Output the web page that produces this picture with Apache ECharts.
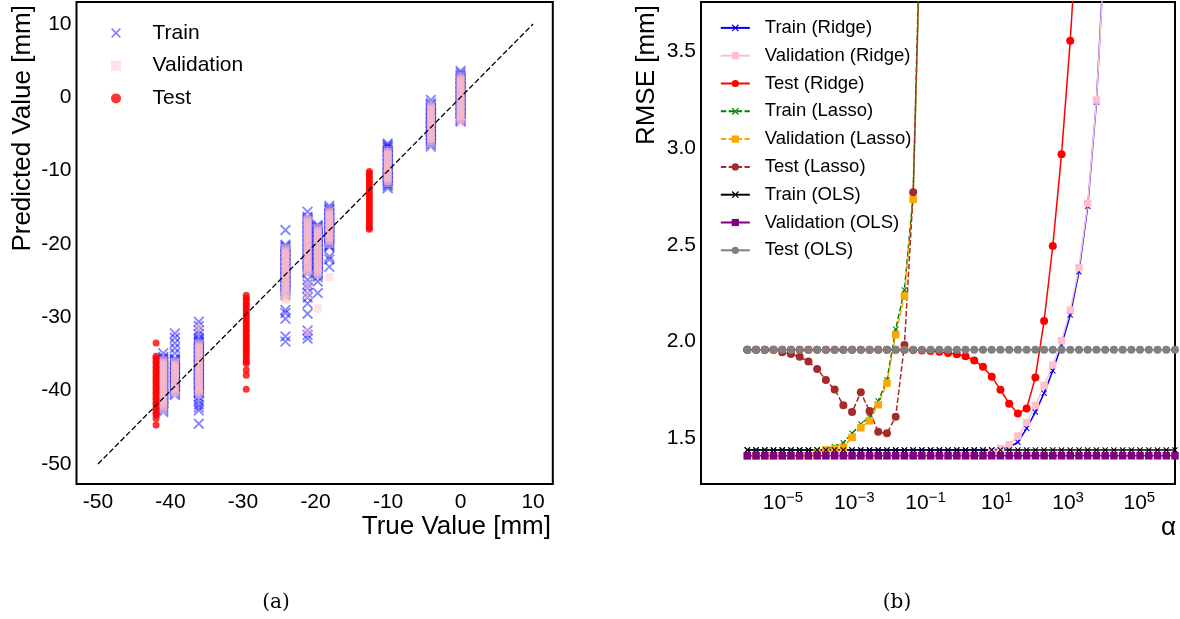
<!DOCTYPE html>
<html>
<head>
<meta charset="utf-8">
<script src="https://cdn.jsdelivr.net/npm/echarts@6/dist/echarts.min.js"></script>
<style>
html, body { margin: 0; padding: 0; background: #fff; }
#chart { width: 1180px; height: 619px; }
</style>
</head>
<body>
<div id="chart"></div>
<script>
// ---------- (a) predicted vs. true displacement [mm] ----------
// each entry: [true value, predicted values]
const trainSets = [
  [0.0, [3.6, 3.3, 3.0, 2.8, 2.6, 2.45, 2.2, 2.0, 1.85, 1.6, 1.4, 1.25, 1.0, 0.8, 0.65, 0.4, 0.2, 0.05, -0.2, -0.4, -0.55, -0.8, -1.0, -1.15, -1.4, -1.6, -1.75, -2.0, -2.2, -2.35, -2.6, -2.8, -2.95, -3.15, -3.3]],
  [-4.1, [-0.36, -0.8, -1.0, -1.15, -1.4, -1.6, -1.75, -2.0, -2.2, -2.35, -2.6, -2.8, -2.95, -3.2, -3.4, -3.55, -3.8, -4.0, -4.15, -4.4, -4.6, -4.75, -5.0, -5.2, -5.35, -5.6, -5.8, -5.95, -6.2, -6.4, -6.7]],
  [-10.05, [-6.3, -6.5, -6.7, -6.85, -7.1, -7.3, -7.45, -7.7, -7.9, -8.05, -8.3, -8.5, -8.65, -8.9, -9.1, -9.25, -9.5, -9.7, -9.85, -10.1, -10.3, -10.45, -10.7, -10.9, -11.05, -11.3, -11.5, -11.65, -11.9, -12.1, -12.4]],
  [-18.1, [-14.8, -15.1, -15.3, -15.45, -15.7, -15.9, -16.05, -16.3, -16.5, -16.65, -16.9, -17.1, -17.25, -17.5, -17.7, -17.85, -18.1, -18.3, -18.45, -18.7, -18.9, -19.05, -19.3, -19.5, -19.65, -19.9, -20.1, -20.25, -20.4, -21.7, -22.1, -23.1]],
  [-19.7, [-17.4, -17.6, -17.8, -17.95, -18.2, -18.4, -18.55, -18.8, -19.0, -19.15, -19.4, -19.6, -19.75, -20.0, -20.2, -20.35, -20.6, -20.8, -20.95, -21.2, -21.4, -21.55, -21.8, -22.0, -22.15, -22.4, -22.6, -22.75, -23.0, -23.2, -23.35, -23.6, -23.8, -23.95, -24.2, -24.5, -25.1, -26.7]],
  [-21.1, [-15.6, -16.3, -16.5, -16.65, -16.9, -17.1, -17.25, -17.5, -17.7, -17.85, -18.1, -18.3, -18.45, -18.7, -18.9, -19.05, -19.3, -19.5, -19.65, -19.9, -20.1, -20.25, -20.5, -20.7, -20.85, -21.1, -21.3, -21.45, -21.7, -21.9, -22.05, -22.3, -22.5, -22.65, -22.9, -23.1, -23.25, -23.5, -23.7, -23.85, -24.0, -24.9, -25.5, -26.0, -26.7, -27.3, -28.1, -29.5, -31.8, -32.4, -32.9]],
  [-24.15, [-18.1, -20.1, -20.3, -20.45, -20.7, -20.9, -21.05, -21.3, -21.5, -21.65, -21.9, -22.1, -22.25, -22.5, -22.7, -22.85, -23.1, -23.3, -23.45, -23.7, -23.9, -24.05, -24.3, -24.5, -24.65, -24.9, -25.1, -25.25, -25.5, -25.7, -25.85, -26.1, -26.3, -26.45, -26.7, -27.0, -29.0, -29.4, -30.2, -32.6, -33.3]],
  [-36.1, [-30.6, -31.2, -31.8, -32.3, -32.8, -33.1, -33.3, -33.5, -33.65, -33.9, -34.1, -34.25, -34.5, -34.7, -34.85, -35.1, -35.3, -35.45, -35.7, -35.9, -36.05, -36.3, -36.5, -36.65, -36.9, -37.1, -37.25, -37.5, -37.7, -37.85, -38.1, -38.3, -38.45, -38.7, -38.9, -39.05, -39.3, -39.5, -39.65, -39.9, -40.1, -40.25, -40.4, -40.9, -41.4, -41.9, -42.3, -42.7, -44.5]],
  [-39.4, [-32.2, -32.8, -33.5, -34.2, -34.9, -35.6, -35.8, -35.95, -36.2, -36.4, -36.55, -36.8, -37.0, -37.15, -37.4, -37.6, -37.75, -38.0, -38.2, -38.35, -38.6, -38.8, -38.95, -39.2, -39.4, -39.55, -39.8, -40.0, -40.15, -40.4, -40.6]],
  [-41.0, [-34.9, -35.4, -35.6, -35.75, -36.0, -36.2, -36.35, -36.6, -36.8, -36.95, -37.2, -37.4, -37.55, -37.8, -38.0, -38.15, -38.4, -38.6, -38.75, -39.0, -39.2, -39.35, -39.6, -39.8, -39.95, -40.2, -40.4, -40.55, -40.8, -41.0, -41.15, -41.4, -41.6, -41.75, -42.0, -42.2, -42.35, -42.6, -42.9]]
];

const validationSets = [
  [0.0, [2.9, 2.65, 2.4, 2.2, 1.9, 1.65, 1.4, 1.2, 0.9, 0.65, 0.4, 0.2, -0.1, -0.35, -0.6, -0.8, -1.1, -1.35, -1.6, -1.8, -2.1, -2.35, -2.6, -2.8, -3.1, -3.4]],
  [-4.1, [-1.0, -1.25, -1.5, -1.7, -2.0, -2.25, -2.5, -2.7, -3.0, -3.25, -3.5, -3.7, -4.0, -4.25, -4.5, -4.7, -5.0, -5.25, -5.5, -5.7, -6.0, -6.3]],
  [-10.05, [-7.2, -7.45, -7.7, -7.9, -8.2, -8.45, -8.7, -8.9, -9.2, -9.45, -9.7, -9.9, -10.2, -10.45, -10.7, -10.9, -11.2, -11.45, -11.7]],
  [-18.1, [-15.4, -15.65, -15.9, -16.1, -16.4, -16.65, -16.9, -17.1, -17.4, -17.65, -17.9, -18.1, -18.4, -18.65, -18.9, -19.1, -19.4, -19.65, -20.0, -24.5]],
  [-19.7, [-17.8, -18.05, -18.3, -18.5, -18.8, -19.05, -19.3, -19.5, -19.8, -20.05, -20.3, -20.5, -20.8, -21.05, -21.3, -21.5, -21.8, -22.05, -22.3, -22.5, -22.8, -23.05, -23.3, -23.5, -23.8, -24.0, -24.2, -28.8]],
  [-21.1, [-16.5, -16.75, -17.0, -17.2, -17.5, -17.75, -18.0, -18.2, -18.5, -18.75, -19.0, -19.2, -19.5, -19.75, -20.0, -20.2, -20.5, -20.75, -21.0, -21.2, -21.5, -21.75, -22.0, -22.2, -22.5, -22.75, -23.0, -23.2, -23.5, -23.75, -24.0, -25.6, -26.9, -32.0]],
  [-24.15, [-20.5, -20.75, -21.0, -21.2, -21.5, -21.75, -22.0, -22.2, -22.5, -22.75, -23.0, -23.2, -23.5, -23.75, -24.0, -24.2, -24.5, -24.75, -25.0, -25.2, -25.5, -25.75, -26.0, -26.2, -26.5, -26.75, -27.0, -27.3, -27.6]],
  [-36.1, [-31.4, -33.5, -33.75, -34.0, -34.2, -34.5, -34.75, -35.0, -35.2, -35.5, -35.75, -36.0, -36.2, -36.5, -36.75, -37.0, -37.2, -37.5, -37.75, -38.0, -38.2, -38.5, -38.75, -39.0, -39.2, -39.5, -39.75, -40.0, -40.2, -40.5]],
  [-39.4, [-36.0, -36.25, -36.5, -36.7, -37.0, -37.25, -37.5, -37.7, -38.0, -38.25, -38.5, -38.7, -39.0, -39.25, -39.5, -39.7, -40.0, -40.2, -40.4]],
  [-41.0, [-35.8, -36.05, -36.3, -36.5, -36.8, -37.05, -37.3, -37.5, -37.8, -38.05, -38.3, -38.5, -38.8, -39.05, -39.3, -39.5, -39.8, -40.05, -40.3, -40.5, -40.8, -41.05, -41.3, -41.5, -41.8, -42.05, -42.3, -42.6]]
];

const testSets = [
  [-42.0, [-33.5, -35.3, -35.6, -36.0, -36.3, -36.7, -37.0, -37.4, -37.7, -38.1, -38.4, -38.8, -39.1, -39.5, -39.8, -40.2, -40.5, -40.9, -41.2, -41.6, -41.9, -42.3, -42.6, -43.0, -43.3, -43.8, -44.7]],
  [-29.56, [-27.0, -27.4, -27.7, -28.1, -28.4, -28.8, -29.1, -29.5, -29.8, -30.2, -30.5, -30.9, -31.2, -31.6, -31.9, -32.3, -32.6, -33.0, -33.3, -33.7, -34.0, -34.4, -34.7, -35.1, -35.4, -35.8, -36.1, -36.3, -37.2, -37.9, -39.8]],
  [-12.58, [-10.1, -10.4, -10.8, -11.1, -11.5, -11.8, -12.2, -12.5, -12.9, -13.2, -13.6, -13.9, -14.3, -14.6, -15.0, -15.3, -15.7, -16.0, -16.4, -16.7, -17.1, -17.4, -17.8, -18.0]]
];

const identityLine = [[-50, -50], [10, 10]];
const ticksA = [-50, -40, -30, -20, -10, 0, 10];

// ---------- (b) RMSE [mm] against regularisation strength alpha ----------
const alphaExp = [
  -6.000, -5.755, -5.510, -5.265, -5.020, -4.776, -4.531, -4.286, -4.041, -3.796,
  -3.551, -3.306, -3.061, -2.816, -2.571, -2.327, -2.082, -1.837, -1.592, -1.347,
  -1.102, -0.857, -0.612, -0.367, -0.122, 0.122, 0.367, 0.612, 0.857, 1.102,
  1.347, 1.592, 1.837, 2.082, 2.327, 2.571, 2.816, 3.061, 3.306, 3.551,
  3.796, 4.041, 4.286, 4.531, 4.776, 5.020, 5.265, 5.510, 5.755, 6.000
];

const ridgeTrain = [
  1.44, 1.44, 1.44, 1.44, 1.44, 1.44, 1.44, 1.44, 1.44, 1.44,
  1.44, 1.44, 1.44, 1.44, 1.44, 1.44, 1.44, 1.44, 1.44, 1.44,
  1.44, 1.44, 1.44, 1.44, 1.44, 1.44, 1.44, 1.44, 1.44, 1.445,
  1.455, 1.48, 1.552, 1.636, 1.734, 1.85, 1.983, 2.138, 2.362, 2.70,
  3.24, 4.1, null, null, null, null, null, null, null, null
];
const ridgeVal = [
  1.41, 1.41, 1.41, 1.41, 1.41, 1.41, 1.41, 1.41, 1.41, 1.41,
  1.41, 1.41, 1.41, 1.41, 1.41, 1.41, 1.41, 1.41, 1.41, 1.41,
  1.41, 1.41, 1.41, 1.41, 1.41, 1.41, 1.41, 1.41, 1.425, 1.447,
  1.467, 1.512, 1.582, 1.67, 1.773, 1.879, 2.005, 2.164, 2.383, 2.716,
  3.25, 4.05, null, null, null, null, null, null, null, null
];
const ridgeTest = [
  1.958, 1.958, 1.958, 1.958, 1.958, 1.958, 1.958, 1.958, 1.958, 1.958,
  1.958, 1.958, 1.958, 1.958, 1.958, 1.958, 1.958, 1.958, 1.958, 1.957,
  1.955, 1.952, 1.948, 1.942, 1.935, 1.925, 1.903, 1.870, 1.819, 1.752,
  1.679, 1.629, 1.655, 1.815, 2.107, 2.495, 2.969, 3.557, 4.3, null,
  null, null, null, null, null, null, null, null, null, null
];
const lassoTrain = [
  1.44, 1.44, 1.44, 1.44, 1.44, 1.44, 1.44, 1.44, 1.44, 1.444,
  1.457, 1.477, 1.526, 1.574, 1.612, 1.693, 1.802, 2.064, 2.267, 2.76,
  4.4, null, null, null, null, null, null, null, null, null,
  null, null, null, null, null, null, null, null, null, null,
  null, null, null, null, null, null, null, null, null, null
];
const lassoVal = [
  1.41, 1.41, 1.41, 1.41, 1.41, 1.41, 1.41, 1.41, 1.425, 1.44,
  1.446, 1.453, 1.505, 1.555, 1.591, 1.674, 1.786, 2.036, 2.236, 2.736,
  4.4, null, null, null, null, null, null, null, null, null,
  null, null, null, null, null, null, null, null, null, null,
  null, null, null, null, null, null, null, null, null, null
];
const lassoTest = [
  1.958, 1.958, 1.958, 1.958, 1.945, 1.936, 1.922, 1.898, 1.859, 1.802,
  1.753, 1.671, 1.636, 1.738, 1.641, 1.534, 1.526, 1.612, 1.983, 2.773,
  4.5, null, null, null, null, null, null, null, null, null,
  null, null, null, null, null, null, null, null, null, null,
  null, null, null, null, null, null, null, null, null, null
];
const olsTrain = [
  1.44, 1.44, 1.44, 1.44, 1.44, 1.44, 1.44, 1.44, 1.44, 1.44,
  1.44, 1.44, 1.44, 1.44, 1.44, 1.44, 1.44, 1.44, 1.44, 1.44,
  1.44, 1.44, 1.44, 1.44, 1.44, 1.44, 1.44, 1.44, 1.44, 1.44,
  1.44, 1.44, 1.44, 1.44, 1.44, 1.44, 1.44, 1.44, 1.44, 1.44,
  1.44, 1.44, 1.44, 1.44, 1.44, 1.44, 1.44, 1.44, 1.44, 1.44
];
const olsVal = [
  1.41, 1.41, 1.41, 1.41, 1.41, 1.41, 1.41, 1.41, 1.41, 1.41,
  1.41, 1.41, 1.41, 1.41, 1.41, 1.41, 1.41, 1.41, 1.41, 1.41,
  1.41, 1.41, 1.41, 1.41, 1.41, 1.41, 1.41, 1.41, 1.41, 1.41,
  1.41, 1.41, 1.41, 1.41, 1.41, 1.41, 1.41, 1.41, 1.41, 1.41,
  1.41, 1.41, 1.41, 1.41, 1.41, 1.41, 1.41, 1.41, 1.41, 1.41
];
const olsTest = [
  1.958, 1.958, 1.958, 1.958, 1.958, 1.958, 1.958, 1.958, 1.958, 1.958,
  1.958, 1.958, 1.958, 1.958, 1.958, 1.958, 1.958, 1.958, 1.958, 1.958,
  1.958, 1.958, 1.958, 1.958, 1.958, 1.958, 1.958, 1.958, 1.958, 1.958,
  1.958, 1.958, 1.958, 1.958, 1.958, 1.958, 1.958, 1.958, 1.958, 1.958,
  1.958, 1.958, 1.958, 1.958, 1.958, 1.958, 1.958, 1.958, 1.958, 1.958
];
const alphaTickExp = [-5, -3, -1, 1, 3, 5];
const rmseTicks = [1.5, 2.0, 2.5, 3.0, 3.5];

// ---------- drawing ----------
const FONT = 'Liberation Sans';
const CROSS = 'path://M0,1.2L1.2,0L5,3.8L8.8,0L10,1.2L6.2,5L10,8.8L8.8,10L5,6.2L1.2,10L0,8.8L3.8,5Z';

function pairs(sets) {
  const out = [];
  sets.forEach(([t, preds]) => preds.forEach(p => out.push([t, p])));
  return out;
}

function rmseSeries(name, values, color, symbol, size, dashed) {
  return {
    name, type: 'line', xAxisIndex: 1, yAxisIndex: 1,
    data: alphaExp.map((e, i) => [e, values[i]]),
    symbol, symbolSize: size, showSymbol: true, showAllSymbol: true,
    connectNulls: false, clip: true,
    lineStyle: { color, width: 1.5, type: dashed ? [5.5, 2.4] : 'solid' },
    itemStyle: { color, borderWidth: 0 },
    emphasis: { disabled: true }
  };
}

const chart = echarts.init(document.getElementById('chart'), null, { renderer: 'canvas' });

const axisText = { fontFamily: FONT, fontSize: 21, color: '#000' };

const option = {
  animation: false,
  backgroundColor: '#fff',
  textStyle: { fontFamily: FONT },
  grid: [
    { left: 76.5, top: 2, width: 476.3, height: 482, show: true, borderColor: '#000', borderWidth: 2, backgroundColor: 'transparent' },
    { left: 701, top: 2, width: 474, height: 482, show: true, borderColor: '#000', borderWidth: 2, backgroundColor: 'transparent' }
  ],
  xAxis: [
    {
      gridIndex: 0, type: 'value', min: -52.97, max: 12.72,
      axisLine: { show: false }, axisTick: { show: false }, splitLine: { show: false },
      axisLabel: Object.assign({ customValues: ticksA, margin: 8, formatter: v => String(v) }, axisText)
    },
    {
      gridIndex: 1, type: 'value', min: -7.3, max: 6.0,
      axisLine: { show: false }, axisTick: { show: false }, splitLine: { show: false },
      axisLabel: {
        customValues: alphaTickExp, margin: 6, color: '#000',
        formatter: e => '{b|10}{s|' + (e < 0 ? '\u2212' : '') + Math.abs(e) + '}',
        rich: {
          b: { fontFamily: FONT, fontSize: 21, color: '#000' },
          s: { fontFamily: FONT, fontSize: 15, color: '#000', padding: [0, 0, 12, 0] }
        }
      }
    }
  ],
  yAxis: [
    {
      gridIndex: 0, type: 'value', min: -52.73, max: 13.0,
      axisLine: { show: false }, axisTick: { show: false }, splitLine: { show: false },
      axisLabel: Object.assign({ customValues: ticksA, margin: 5, formatter: v => String(v) }, axisText)
    },
    {
      gridIndex: 1, type: 'value', min: 1.264, max: 3.757,
      axisLine: { show: false }, axisTick: { show: false }, splitLine: { show: false },
      axisLabel: Object.assign({ customValues: rmseTicks, margin: 5, formatter: v => v.toFixed(1) }, axisText)
    }
  ],
  legend: [
    {
      data: ['Train', 'Validation', 'Test'],
      orient: 'vertical', left: 106, top: 17.5,
      itemWidth: 10, itemHeight: 10, itemGap: 11.7, selectedMode: false,
      textStyle: { fontFamily: FONT, fontSize: 21, lineHeight: 21, color: '#000', padding: [0, 0, 0, 26.5] }
    },
    {
      data: ['Train (Ridge)', 'Validation (Ridge)', 'Test (Ridge)', 'Train (Lasso)', 'Validation (Lasso)',
             'Test (Lasso)', 'Train (OLS)', 'Validation (OLS)', 'Test (OLS)'],
      orient: 'vertical', left: 714.8, top: 13.4,
      itemWidth: 29, itemHeight: 9, itemGap: 8.8, selectedMode: false,
      textStyle: { fontFamily: FONT, fontSize: 18.5, lineHeight: 18.5, color: '#000', padding: [0, 0, 0, 10] }
    }
  ],
  series: [
    {
      name: 'Train', type: 'scatter', xAxisIndex: 0, yAxisIndex: 0,
      data: pairs(trainSets), symbol: CROSS, symbolSize: 11,
      itemStyle: { color: 'rgba(0,0,255,0.6)' }, emphasis: { disabled: true }
    },
    {
      name: 'Validation', type: 'scatter', xAxisIndex: 0, yAxisIndex: 0,
      data: pairs(validationSets), symbol: 'rect', symbolSize: 8,
      itemStyle: { color: 'rgba(255,192,203,0.6)' }, emphasis: { disabled: true }
    },
    {
      name: 'Test', type: 'scatter', xAxisIndex: 0, yAxisIndex: 0,
      data: pairs(testSets), symbol: 'circle', symbolSize: 7,
      itemStyle: { color: '#ff0000' }, emphasis: { disabled: true }
    },
    {
      type: 'line', xAxisIndex: 0, yAxisIndex: 0, data: identityLine,
      symbol: 'none', z: 5,
      lineStyle: { color: '#000', width: 1.3, type: [5.5, 2.5] }
    },
    rmseSeries('Train (Ridge)', ridgeTrain, '#0000ff', CROSS, 6, false),
    rmseSeries('Validation (Ridge)', ridgeVal, '#ffc0cb', 'rect', 7.5, false),
    rmseSeries('Test (Ridge)', ridgeTest, '#ff0000', 'circle', 8, false),
    rmseSeries('Train (Lasso)', lassoTrain, '#008000', CROSS, 6, true),
    rmseSeries('Validation (Lasso)', lassoVal, '#ffa500', 'rect', 7.5, true),
    rmseSeries('Test (Lasso)', lassoTest, '#a52a2a', 'circle', 8, true),
    rmseSeries('Train (OLS)', olsTrain, '#000000', CROSS, 6, false),
    rmseSeries('Validation (OLS)', olsVal, '#800080', 'rect', 7.5, false),
    rmseSeries('Test (OLS)', olsTest, '#808080', 'circle', 8, false)
  ],
  graphic: [
    { type: 'text', x: 22.5, y: 5, rotation: Math.PI / 2,
      style: { text: 'Predicted Value [mm]', font: '26px "Liberation Sans"', fill: '#000', textAlign: 'right', textVerticalAlign: 'middle' } },
    { type: 'text', x: 551, y: 527,
      style: { text: 'True Value [mm]', font: '26px "Liberation Sans"', fill: '#000', textAlign: 'right', textVerticalAlign: 'middle' } },
    { type: 'text', x: 647, y: 5, rotation: Math.PI / 2,
      style: { text: 'RMSE [mm]', font: '26px "Liberation Sans"', fill: '#000', textAlign: 'right', textVerticalAlign: 'middle' } },
    { type: 'text', x: 1176, y: 528,
      style: { text: '\u03b1', font: '26px "Liberation Sans"', fill: '#000', textAlign: 'right', textVerticalAlign: 'middle' } },
    { type: 'text', x: 276, y: 603,
      style: { text: '(a)', font: '20px "DejaVu Serif"', fill: '#000', textAlign: 'center', textVerticalAlign: 'middle' } },
    { type: 'text', x: 897, y: 603,
      style: { text: '(b)', font: '20px "DejaVu Serif"', fill: '#000', textAlign: 'center', textVerticalAlign: 'middle' } }
  ]
};

chart.setOption(option);
</script>
</body>
</html>
